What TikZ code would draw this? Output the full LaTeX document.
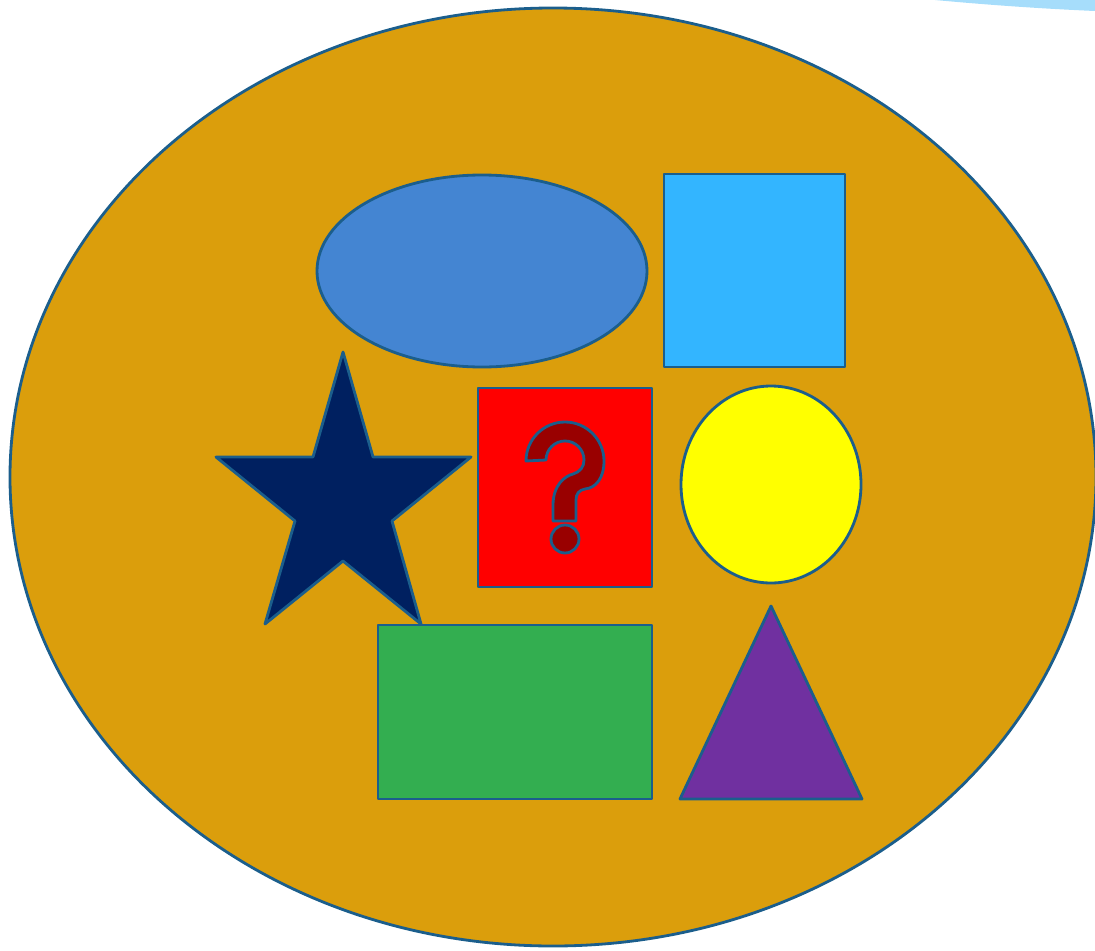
\documentclass[tikz,border=0pt]{standalone}
\definecolor{edge}{HTML}{1B5E8C}
\definecolor{gold}{HTML}{DB9E0C}
\definecolor{ellblue}{HTML}{4485D2}
\definecolor{skyblue}{HTML}{33B5FF}
\definecolor{arcblue}{HTML}{A6DDFB}
\definecolor{navy}{HTML}{002060}
\definecolor{grn}{HTML}{33AE50}
\definecolor{purp}{HTML}{7030A0}
\definecolor{qmark}{HTML}{990000}
\definecolor{yel}{RGB}{255,255,0}
\tikzset{shp/.style={draw=edge,line width=1.6pt,line join=round}}
\begin{document}
\begin{tikzpicture}[x=0.02cm,y=-0.02cm]
\useasboundingbox (0,0) rectangle (1095,950);
% light blue arc at the top right
\fill[arcblue] (935,0) .. controls (1000,6) and (1050,9) .. (1095,11) -- (1095,0) -- cycle;
% big ellipse
\draw[shp,fill=gold] (553,477) ellipse [x radius=543, y radius=469];
% blue ellipse
\draw[shp,fill=ellblue] (482,271) ellipse [x radius=165, y radius=96];
% light blue square
\draw[shp,fill=skyblue] (664,174) rectangle (845,367);
% star
\draw[shp,fill=navy] (343,352) -- (373,457) -- (471,457) -- (392,521) -- (421,624) -- (343,561) -- (265,624) -- (295,521) -- (216,457) -- (313,457) -- cycle;
% red box
\draw[shp,fill=red] (478,388) rectangle (652,587);
% question mark
\draw[shp,fill=qmark] (526,461) .. controls (526,439.5) and (543.5,422) .. (565,422)
  .. controls (586.5,422) and (604,439.5) .. (604,461)
  .. controls (604,478) and (596,488) .. (585,489)
  .. controls (579,490) and (576,494) .. (576,500) -- (576,521) -- (553,521) -- (553,505)
  .. controls (553,485) and (565,476) .. (573,474)
  .. controls (580,472) and (584,467) .. (584,460)
  .. controls (584,449.5) and (575.5,441) .. (565,441)
  .. controls (554.5,441) and (546,449.5) .. (546,460) -- cycle;
\draw[shp,fill=qmark] (565,539) circle [radius=14];
% yellow ellipse
\draw[shp,fill=yel] (771,484.5) ellipse [x radius=90, y radius=98.5];
% green rectangle
\draw[shp,fill=grn] (378,625) rectangle (652,799);
% purple triangle
\draw[shp,fill=purp] (680,799) -- (771,606) -- (862,799) -- cycle;
\end{tikzpicture}
\end{document}
